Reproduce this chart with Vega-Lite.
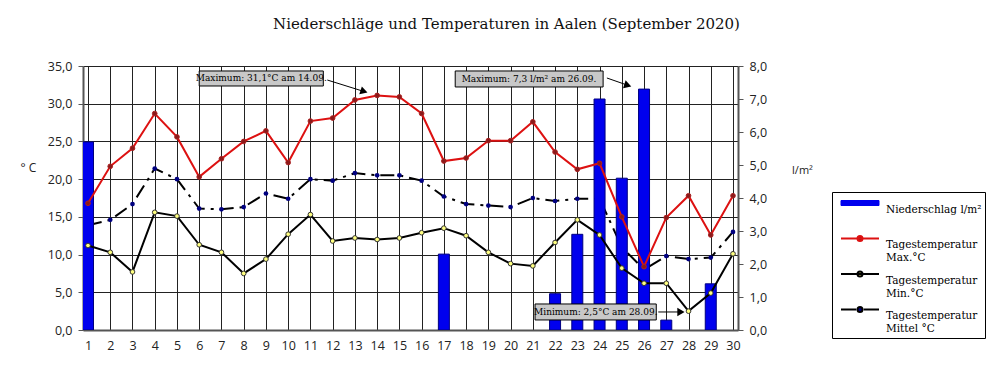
{
  "$schema": "https://vega.github.io/schema/vega-lite/v6.json",
  "width": 655,
  "height": 264,
  "autosize": "none",
  "padding": {"left": 83, "top": 66, "right": 262, "bottom": 46},
  "background": "white",
  "title": {"text": "Niederschläge und Temperaturen in Aalen (September 2020)", "frame": "group", "font": "DejaVu Serif", "fontSize": 15, "fontWeight": "normal", "color": "#111", "anchor": "middle", "dx": 96, "offset": 16, "baseline": "alphabetic"},
  "datasets": {
    "days": [
      {"day": 1, "tmax": 16.8, "tmin": 11.2, "tmean": 13.9, "precip": 5.7},
      {"day": 2, "tmax": 21.7, "tmin": 10.3, "tmean": 14.6, "precip": 0},
      {"day": 3, "tmax": 24.1, "tmin": 7.7, "tmean": 16.7, "precip": 0},
      {"day": 4, "tmax": 28.7, "tmin": 15.6, "tmean": 21.4, "precip": 0},
      {"day": 5, "tmax": 25.6, "tmin": 15.1, "tmean": 20.0, "precip": 0},
      {"day": 6, "tmax": 20.3, "tmin": 11.3, "tmean": 16.1, "precip": 0},
      {"day": 7, "tmax": 22.7, "tmin": 10.3, "tmean": 16.0, "precip": 0},
      {"day": 8, "tmax": 25.0, "tmin": 7.5, "tmean": 16.3, "precip": 0},
      {"day": 9, "tmax": 26.4, "tmin": 9.4, "tmean": 18.1, "precip": 0},
      {"day": 10, "tmax": 22.2, "tmin": 12.7, "tmean": 17.4, "precip": 0},
      {"day": 11, "tmax": 27.7, "tmin": 15.3, "tmean": 20.0, "precip": 0},
      {"day": 12, "tmax": 28.1, "tmin": 11.8, "tmean": 19.8, "precip": 0},
      {"day": 13, "tmax": 30.5, "tmin": 12.2, "tmean": 20.8, "precip": 0},
      {"day": 14, "tmax": 31.1, "tmin": 12.0, "tmean": 20.5, "precip": 0},
      {"day": 15, "tmax": 30.9, "tmin": 12.2, "tmean": 20.5, "precip": 0},
      {"day": 16, "tmax": 28.7, "tmin": 12.9, "tmean": 19.8, "precip": 0},
      {"day": 17, "tmax": 22.4, "tmin": 13.5, "tmean": 17.7, "precip": 2.3},
      {"day": 18, "tmax": 22.8, "tmin": 12.5, "tmean": 16.7, "precip": 0},
      {"day": 19, "tmax": 25.1, "tmin": 10.3, "tmean": 16.5, "precip": 0},
      {"day": 20, "tmax": 25.1, "tmin": 8.8, "tmean": 16.3, "precip": 0},
      {"day": 21, "tmax": 27.6, "tmin": 8.5, "tmean": 17.5, "precip": 0},
      {"day": 22, "tmax": 23.6, "tmin": 11.6, "tmean": 17.1, "precip": 1.1},
      {"day": 23, "tmax": 21.3, "tmin": 14.6, "tmean": 17.4, "precip": 2.9},
      {"day": 24, "tmax": 22.1, "tmin": 12.6, "tmean": 17.4, "precip": 7.0},
      {"day": 25, "tmax": 15.0, "tmin": 8.2, "tmean": 11.0, "precip": 4.6},
      {"day": 26, "tmax": 8.4, "tmin": 6.2, "tmean": 8.0, "precip": 7.3},
      {"day": 27, "tmax": 14.9, "tmin": 6.2, "tmean": 9.8, "precip": 0.3},
      {"day": 28, "tmax": 17.8, "tmin": 2.5, "tmean": 9.4, "precip": 0},
      {"day": 29, "tmax": 12.6, "tmin": 4.9, "tmean": 9.6, "precip": 1.4},
      {"day": 30, "tmax": 17.8, "tmin": 10.1, "tmean": 13.0, "precip": 0}
    ],
    "boxes": [
      {"day": 6.0, "day2": 11.58, "y": 34.34, "y2": 32.35},
      {"day": 17.51, "day2": 24.16, "y": 34.34, "y2": 32.22},
      {"day": 21.10, "day2": 26.55, "y": 3.45, "y2": 1.33}
    ],
    "labels": [
      {"label": "Maximum: 31,1°C am 14.09.", "day": 8.79, "y": 33.35},
      {"label": "Maximum: 7,3 l/m² am 26.09.", "day": 20.83, "y": 33.28},
      {"label": "Minimum: 2,5°C am 28.09.", "day": 23.83, "y": 2.39}
    ],
    "arrows": [
      {"day": 11.76, "y": 33.14, "day2": 13.41, "y2": 31.62},
      {"day": 24.33, "y": 33.41, "day2": 25.27, "y2": 32.44},
      {"day": 26.64, "y": 2.39, "day2": 27.66, "y2": 2.39}
    ],
    "headsSlanted": [
      {"day": 13.41, "y": 31.62},
      {"day": 25.27, "y": 32.44}
    ],
    "headsFlat": [
      {"day": 27.66, "y": 2.39}
    ]
  },
  "encoding": {
    "x": {"field": "day", "type": "quantitative", "scale": {"domain": [1, 30], "nice": false, "zero": false},
      "axis": {"values": [1,2,3,4,5,6,7,8,9,10,11,12,13,14,15,16,17,18,19,20,21,22,23,24,25,26,27,28,29,30], "format": "d", "grid": true, "gridColor": "#222", "gridWidth": 1, "domainColor": "#555", "domainWidth": 2, "ticks": false, "labelPadding": 9, "labelFont": "Open Sans", "labelFontSize": 12.5, "labelColor": "#222", "labelFlush": false, "labelOverlap": false, "title": null}}
  },
  "layer": [
    {
      "data": {"name": "days"},
      "encoding": {
        "y": {"field": "tmean", "type": "quantitative", "scale": {"domain": [0, 35], "nice": false},
          "axis": {"values": [0,5,10,15,20,25,30,35], "labelExpr": "replace(format(datum.value,'.1f'),'.',',')", "grid": true, "gridColor": "#222", "gridWidth": 1, "domainColor": "#555", "domainWidth": 2, "tickColor": "#555", "tickSize": 5, "tickWidth": 1, "labelPadding": 6, "labelFont": "Open Sans", "labelFontSize": 12.5, "labelColor": "#222", "title": "° C", "titleAngle": 0, "titleX": -55, "titleY": 101, "titleAlign": "center", "titleBaseline": "middle", "titleFont": "Open Sans", "titleFontSize": 12, "titleFontWeight": "normal", "titleColor": "#222"}}
      },
      "layer": [
        {
          "mark": {"type": "line", "strokeDash": [14, 6, 3, 6], "strokeWidth": 2},
          "encoding": {
            "color": {
              "datum": "Tagestemperatur|Mittel °C",
              "type": "nominal",
              "scale": {"domain": ["Niederschlag l/m²", "Tagestemperatur|Max.°C", "Tagestemperatur|Min.°C", "Tagestemperatur|Mittel °C"], "range": ["#0000ee", "#dd1111", "#000000", "#000000"]},
              "legend": {
                "title": null,
                "orient": "none",
                "legendX": 749,
                "legendY": 126,
                "strokeColor": "#000",
                "fillColor": "#fff",
                "padding": 3,
                "labelFont": "DejaVu Serif",
                "labelFontSize": 10.5,
                "labelColor": "#000",
                "labelLimit": 0,
                "symbolSize": 400,
                "rowPadding": 2.5,
                "labelOffset": 4,
                "labelExpr": "indexof(datum.label, '|') >= 0 ? split(datum.label, '|') : [datum.label, ' ']",
                "encode": {
                  "symbols": {"update": {
                    "x": {"value": 25},
                    "y": {"value": 8},
                    "shape": {"signal": "datum.value == 'Niederschlag l/m²' ? 'M-1.9,-0.25H1.9V0.25H-1.9Z' : (datum.value == 'Tagestemperatur|Mittel °C' ? 'M-1.9,0H-0.38M0.38,0H1.9M-0.25,0A0.25,0.25,0,1,1,0.25,0A0.25,0.25,0,1,1,-0.25,0Z' : 'M-1.9,0H1.9M-0.25,0A0.25,0.25,0,1,1,0.25,0A0.25,0.25,0,1,1,-0.25,0Z')"},
                    "fill": {"signal": "datum.value == 'Niederschlag l/m²' ? '#0000ee' : (datum.value == 'Tagestemperatur|Max.°C' ? '#8b1a1a' : (datum.value == 'Tagestemperatur|Min.°C' ? '#ffff80' : '#000080'))"},
                    "stroke": {"signal": "datum.value == 'Niederschlag l/m²' ? '#000080' : (datum.value == 'Tagestemperatur|Max.°C' ? '#dd1111' : '#000000')"},
                    "strokeWidth": {"signal": "datum.value == 'Niederschlag l/m²' ? 1 : 2"},
                    "opacity": {"value": 1}
                  }},
                  "labels": {"update": {
                    "x": {"value": 51},
                    "y": {"value": 8},
                    "dy": {"value": 6.5},
                    "lineHeight": {"value": 13}
                  }}
                }
              }
            }
          }
        },
        {
          "mark": {"type": "point", "filled": true, "size": 22, "color": "#000080", "opacity": 1}
        }
      ]
    },
    {
      "data": {"name": "days"},
      "transform": [{"filter": "datum.precip > 0"}],
      "mark": {"type": "bar", "size": 11, "fill": "#0000ee", "stroke": "#000080", "strokeWidth": 1, "clip": true},
      "encoding": {
        "y": {"field": "precip", "type": "quantitative", "scale": {"domain": [0, 8], "nice": false},
          "axis": {"orient": "right", "values": [0,1,2,3,4,5,6,7,8], "labelExpr": "replace(format(datum.value,'.1f'),'.',',')", "grid": false, "domainColor": "#555", "domainWidth": 2, "tickColor": "#555", "tickSize": 5, "tickWidth": 1, "labelPadding": 6, "labelFont": "Open Sans", "labelFontSize": 12.5, "labelColor": "#222", "title": "l/m²", "titleAngle": 0, "titleX": 64, "titleY": 104, "titleAlign": "center", "titleBaseline": "middle", "titleFont": "Open Sans", "titleFontSize": 11, "titleFontWeight": "normal", "titleColor": "#222"}}
      }
    },
    {
      "layer": [
        {
          "data": {"name": "days"},
          "mark": {"type": "line", "color": "#000000", "strokeWidth": 2},
          "encoding": {
            "y": {"field": "tmin", "type": "quantitative", "scale": {"domain": [0, 35], "nice": false}, "axis": null}
          }
        },
        {
          "data": {"name": "days"},
          "mark": {"type": "point", "filled": true, "size": 22, "fill": "#ffff80", "stroke": "#333", "strokeWidth": 1, "opacity": 1},
          "encoding": {
            "y": {"field": "tmin", "type": "quantitative", "axis": null}
          }
        },
        {
          "data": {"name": "days"},
          "mark": {"type": "line", "color": "#dd1111", "strokeWidth": 2},
          "encoding": {
            "y": {"field": "tmax", "type": "quantitative", "axis": null}
          }
        },
        {
          "data": {"name": "days"},
          "mark": {"type": "point", "filled": true, "size": 22, "fill": "#8b1a1a", "stroke": "#aa2222", "strokeWidth": 1, "opacity": 1},
          "encoding": {
            "y": {"field": "tmax", "type": "quantitative", "axis": null}
          }
        },
        {
          "data": {"name": "boxes"},
          "mark": {"type": "rect", "fill": "#c8c8c8", "stroke": "#000", "strokeWidth": 1},
          "encoding": {
            "x2": {"field": "day2"},
            "y": {"field": "y", "type": "quantitative", "axis": null},
            "y2": {"field": "y2"}
          }
        },
        {
          "data": {"name": "labels"},
          "mark": {"type": "text", "font": "DejaVu Serif", "fontSize": 9, "color": "#000", "align": "center", "baseline": "middle"},
          "encoding": {
            "y": {"field": "y", "type": "quantitative", "axis": null},
            "text": {"field": "label"}
          }
        },
        {
          "data": {"name": "arrows"},
          "mark": {"type": "rule", "color": "#000", "strokeWidth": 1},
          "encoding": {
            "x2": {"field": "day2"},
            "y": {"field": "y", "type": "quantitative", "axis": null},
            "y2": {"field": "y2"}
          }
        },
        {
          "data": {"name": "headsSlanted"},
          "mark": {"type": "point", "shape": "triangle-right", "filled": true, "color": "#000", "size": 70, "angle": 18, "opacity": 1},
          "encoding": {
            "y": {"field": "y", "type": "quantitative", "axis": null}
          }
        },
        {
          "data": {"name": "headsFlat"},
          "mark": {"type": "point", "shape": "triangle-right", "filled": true, "color": "#000", "size": 70, "angle": 0, "opacity": 1},
          "encoding": {
            "y": {"field": "y", "type": "quantitative", "axis": null}
          }
        }
      ]
    }
  ],
  "resolve": {"scale": {"y": "independent"}},
  "config": {
    "view": {"stroke": null}
  }
}
